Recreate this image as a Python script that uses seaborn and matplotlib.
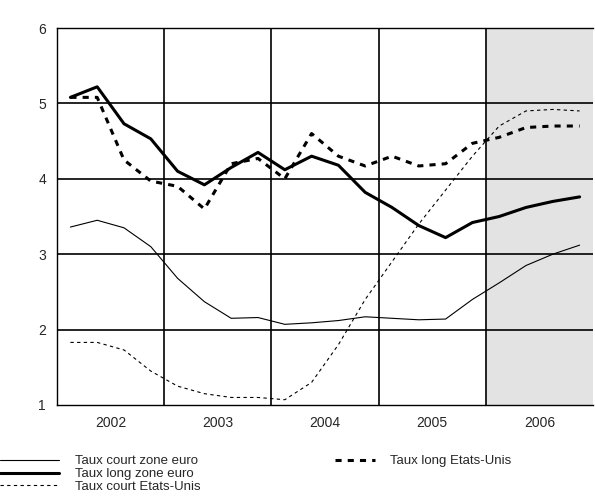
import matplotlib
matplotlib.use("Agg")
import matplotlib.pyplot as plt
import seaborn as sns
import numpy as np
import pandas as pd

sns.set_style("white")
plt.rcParams['font.family'] = ['Liberation Sans', 'DejaVu Sans']

years = ["2002", "2003", "2004", "2005", "2006"]
short_euro = [3.36, 3.45, 3.35, 3.10, 2.68, 2.37, 2.15, 2.16, 2.07, 2.09, 2.12, 2.17, 2.15, 2.13, 2.14, 2.40, 2.62, 2.85, 3.00, 3.12]
long_euro = [5.08, 5.22, 4.73, 4.53, 4.10, 3.92, 4.15, 4.35, 4.12, 4.30, 4.18, 3.82, 3.62, 3.38, 3.22, 3.42, 3.50, 3.62, 3.70, 3.76]
short_us = [1.83, 1.83, 1.73, 1.45, 1.25, 1.15, 1.10, 1.10, 1.07, 1.30, 1.80, 2.40, 2.90, 3.40, 3.85, 4.30, 4.70, 4.90, 4.92, 4.90]
long_us = [5.08, 5.08, 4.25, 3.97, 3.90, 3.60, 4.20, 4.27, 4.00, 4.60, 4.30, 4.17, 4.30, 4.17, 4.20, 4.47, 4.55, 4.68, 4.70, 4.70]

x = np.arange(len(short_euro)) * 0.25 + 0.125
df = pd.DataFrame({"x": x, "se": short_euro, "le": long_euro, "su": short_us, "lu": long_us})

fig = plt.figure(figsize=(5.95, 5.04), dpi=100)
ax = fig.add_axes([57/595, 1-405/504, 536/595, 377/504])
ax.axvspan(4, 5, color="#e3e3e3", zorder=0)
sns.lineplot(data=df, x="x", y="se", ax=ax, color="black", lw=0.8, label="Taux court zone euro")
sns.lineplot(data=df, x="x", y="le", ax=ax, color="black", lw=2.2, label="Taux long zone euro")
sns.lineplot(data=df, x="x", y="su", ax=ax, color="black", lw=0.8, ls=(0, (3, 3)), label="Taux court Etats-Unis")
sns.lineplot(data=df, x="x", y="lu", ax=ax, color="black", lw=2.2, ls=(0, (2, 2)), label="Taux long Etats-Unis")
ax.set_xlim(0, 5)
ax.set_ylim(1, 6)
ax.set_xticks([0.5, 1.5, 2.5, 3.5, 4.5])
ax.set_xticklabels(years)
ax.set_yticks([1, 2, 3, 4, 5, 6])
for v in [1, 2, 3, 4]:
    ax.axvline(v, color="black", lw=1.2, zorder=1)
for v in [2, 3, 4, 5]:
    ax.axhline(v, color="black", lw=1.2, zorder=1)
ax.set_xlabel(""); ax.set_ylabel("")
ax.tick_params(length=0, labelsize=10, pad=8)
for s in ax.spines.values():
    s.set_color("black"); s.set_linewidth(1)
ax.spines["right"].set_visible(False)
h, l = ax.get_legend_handles_labels()
ax.get_legend().remove()
fig.legend(h[:3], l[:3], loc="upper left", bbox_to_anchor=(0.0, 1-455/504), frameon=False,
           fontsize=9.5, handlelength=4.5, handletextpad=1.2, labelspacing=0.05, borderaxespad=0, borderpad=0)
fig.legend(h[3:], l[3:], loc="upper left", bbox_to_anchor=(335/595, 1-455/504), frameon=False,
           fontsize=9.5, handlelength=3, handletextpad=1.2, labelspacing=0.05, borderaxespad=0, borderpad=0)
fig.savefig("out.png", dpi=100)
